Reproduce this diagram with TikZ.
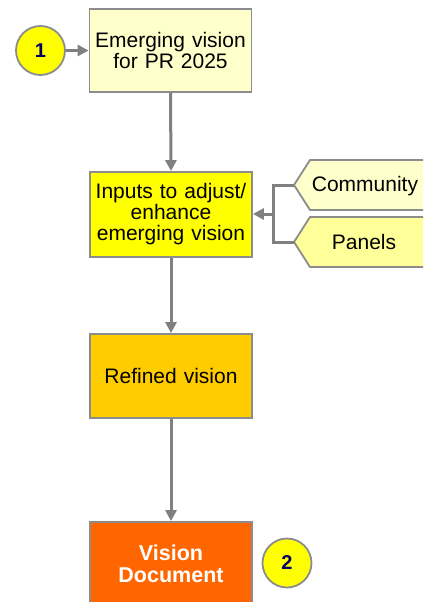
\documentclass[tikz,border=0pt]{standalone}
\usepackage{fontspec}
\setmainfont{Liberation Sans}
\usetikzlibrary{arrows.meta}
\definecolor{paleyel}{HTML}{FFFFCC}
\definecolor{tagyel}{HTML}{FFFF99}
\definecolor{brightyel}{HTML}{FFFF00}
\definecolor{amber}{HTML}{FFCC00}
\definecolor{deeporange}{HTML}{FF6600}
\definecolor{edgegray}{HTML}{8C8C8C}
\definecolor{linegray}{HTML}{808080}
\definecolor{navy}{HTML}{000066}
\tikzset{
  stepbox/.style={draw=edgegray, line width=1.8pt, minimum width=160pt, minimum height=84pt,
    inner sep=2pt, align=center, font=\fontsize{21}{21}\selectfont, text width=158pt},
  badge/.style={circle, draw=edgegray, line width=1.8pt, fill=brightyel, minimum size=49pt,
    inner sep=0pt, font=\fontsize{20}{20}\selectfont\bfseries, text=navy},
  tag/.style={draw=edgegray, line width=1.8pt},
  flow/.style={draw=linegray, line width=3pt, -{Triangle[length=11pt,width=11pt]}},
  joint/.style={draw=linegray, line width=3pt},
  tagtext/.style={font=\fontsize{21}{21}\selectfont, inner sep=0pt}
}
\begin{document}
\begin{tikzpicture}[x=1pt,y=-1pt]
\useasboundingbox (0,0) rectangle (423,602);
\clip (0,0) rectangle (423,602);

% main chain of steps
\node[stepbox, fill=paleyel, minimum height=83pt] (emerge) at (170.5,50.5) {Emerging vision\\for PR 2025};
\node[stepbox, fill=brightyel, minimum height=85pt] (inputs) at (171,214.5) {Inputs to adjust/\\enhance\\emerging vision};
\node[stepbox, fill=amber, minimum height=84pt] (refined) at (171,376) {Refined vision};
\node[stepbox, fill=deeporange, text=white, font=\fontsize{21.5}{22}\selectfont\bfseries,
  minimum height=84pt] (doc) at (171,564) {Vision\\Document};

% numbered badges
\node[badge] (one) at (40.5,50.5) {1};
\node[badge] (two) at (287,563) {2};

% input tags
\filldraw[tag, fill=paleyel] (294,185) -- (310,160) -- (440,160) -- (440,210) -- (310,210) -- cycle;
\filldraw[tag, fill=tagyel] (294,242) -- (310,217) -- (440,217) -- (440,267) -- (310,267) -- cycle;
\coordinate (comm) at (294,185);
\coordinate (pan) at (294,242);
\node[tagtext] (commtext) at (365,186) {Community};
\node[tagtext] (pantext) at (364,242) {Panels};

% connectors
\draw[flow] (one.east) -- (emerge.west |- one.east);
\draw[flow] (emerge.south) -- (inputs.north);
\draw[flow] (inputs.south) -- (refined.north);
\draw[flow] (refined.south) -- (doc.north);
\coordinate (merge) at (273,214);
\draw[joint] (comm) -- (merge |- comm) -- (merge |- pan) -- (pan);
\draw[flow] (merge) -- (inputs.east |- merge);
\end{tikzpicture}
\end{document}
